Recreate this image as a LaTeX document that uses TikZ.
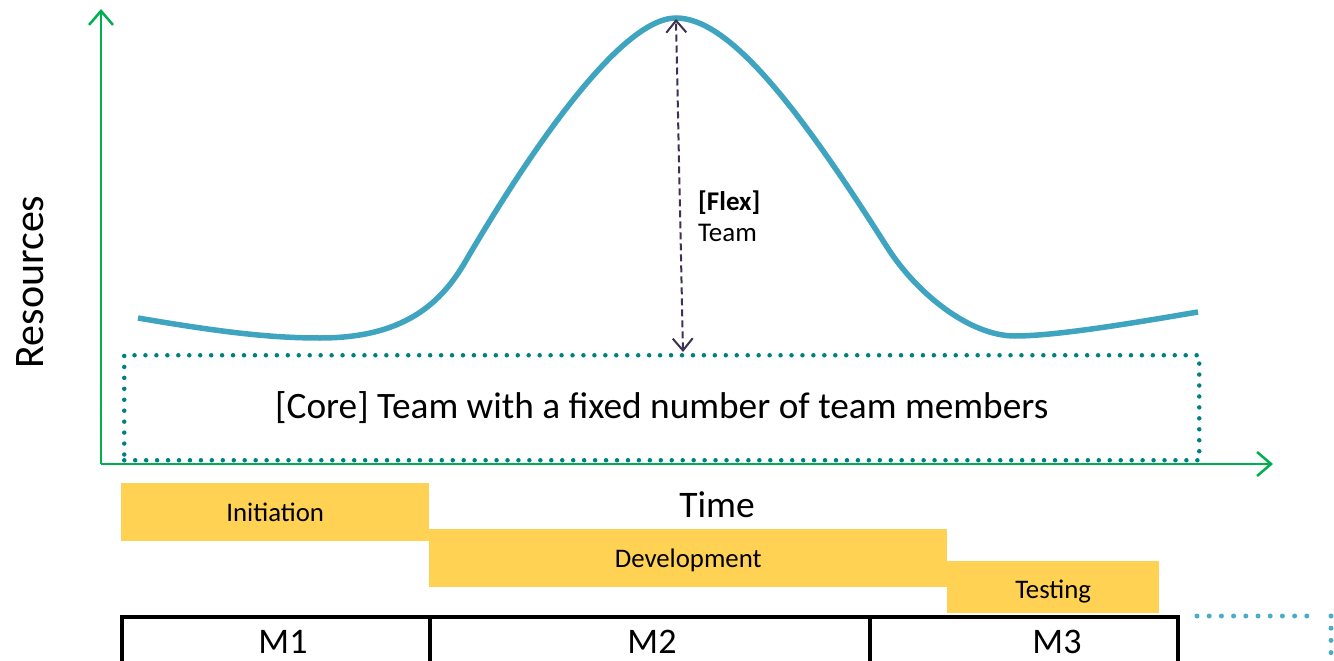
\documentclass[tikz,border=0pt]{standalone}
\usepackage{fontspec}
\setmainfont{Carlito}
\usetikzlibrary{arrows.meta}
\definecolor{axisgreen}{HTML}{00B050}
\definecolor{curveblue}{HTML}{3FA4C0}
\definecolor{coreteal}{HTML}{008080}
\definecolor{flexpurple}{HTML}{3F3151}
\definecolor{phaseyellow}{HTML}{FFD254}
\definecolor{dotblue}{HTML}{4BACC6}
\tikzset{
  axis/.style={draw=axisgreen, line width=2.5pt, -{Straight Barb[length=14pt,width=24pt,line width=2.5pt]}},
  curve/.style={draw=curveblue, line width=5.5pt},
  corebox/.style={draw=coreteal, line width=4.5pt, dash pattern=on 0pt off 10.95pt, line cap=round, inner sep=0pt, anchor=north west, font=\fontsize{37.3}{42}\selectfont},
  flexarrow/.style={draw=flexpurple, line width=2pt, dash pattern=on 7pt off 4pt, {Straight Barb[length=12pt,width=20pt,line width=2pt]}-{Straight Barb[length=12pt,width=20pt,line width=2pt]}},
  phase/.style={fill=phaseyellow, draw=none, anchor=north west, inner sep=0pt, font=\fontsize{26.8}{30}\selectfont},
  cell/.style={font=\fontsize{36}{40}\selectfont, anchor=base},
  tabline/.style={draw=black, line width=3.5pt},
  moredots/.style={draw=dotblue, line width=5pt, dash pattern=on 0pt off 12.2pt, line cap=round},
  lbl/.style={font=\fontsize{27}{30}\selectfont, anchor=base west, inner sep=0pt},
  big/.style={font=\fontsize{37.5}{42}\selectfont}
}
\begin{document}
\begin{tikzpicture}[x=1pt,y=-1pt]
\useasboundingbox (0,0) rectangle (1334,661);
% axes
\coordinate (origin) at (101,464);
\coordinate (ytip) at (101,9);
\coordinate (xtip) at (1273,464);
% core box
\node[corebox, minimum width=1075pt, minimum height=105pt] (core) at (122,353) {[Core] Team with a fixed number of team members};
\draw[axis] (origin) -- (ytip);
\draw[axis] (origin) -- (xtip);
% curve
\coordinate (c0) at (138,318);
\coordinate (c1) at (320,338);
\coordinate (c2) at (468,257);
\coordinate (peak) at (676,18);
\coordinate (c4) at (887,247);
\coordinate (c5) at (1015,336);
\coordinate (c6) at (1198,312);
\draw[curve] (c0) .. controls (220,332) and (270,338) .. (c1)
  .. controls (410,338) and (445,298) .. (c2)
  .. controls (528,155) and (620,18) .. (peak)
  .. controls (730,18) and (800,110) .. (c4)
  .. controls (917,294) and (970,336) .. (c5)
  .. controls (1060,336) and (1150,320) .. (c6);
\coordinate (peaktip) at (676,19);
\coordinate (flexbase) at (683,352);
\draw[flexarrow] (flexbase) -- (peaktip);
\node[lbl] (flex) at (698,210) {\bfseries [Flex]};
\node[lbl] (team) at (698,241) {Team};
% labels
\node[font=\fontsize{42}{46}\selectfont, rotate=90] (res) at (30,282) {Resources};
\node[big] (time) at (717,505) {Time};
% phases
\node[phase, minimum width=308pt, minimum height=58pt] (init) at (121,483) {Initiation};
\node[phase, minimum width=518pt, minimum height=58pt] (dev) at (429,529) {\raisebox{-2pt}[\height][\depth]{Development}};
\node[phase, minimum width=212pt, minimum height=52pt] (test) at (947,561) {\raisebox{-4.5pt}[\height][\depth]{Testing}};
% table
\draw[tabline] (122,617) -- (1178,617);
\draw[tabline] (122,615.25) -- (122,670);
\draw[tabline] (430,617) -- (430,670);
\draw[tabline] (870,617) -- (870,670);
\draw[tabline] (1178,615.25) -- (1178,670);
\node[cell] (m1) at (283,653) {M1};
\node[cell] (m2) at (652,653) {M2};
\node[cell] (m3) at (1057,653) {M3};
% continuation dots
\coordinate (d1) at (1197,616);
\coordinate (d2) at (1307,616);
\coordinate (d3) at (1331,616);
\coordinate (d4) at (1331,661);
\draw[moredots] (d1) -- (d2);
\draw[moredots] (d3) -- (d4);
\end{tikzpicture}
\end{document}
